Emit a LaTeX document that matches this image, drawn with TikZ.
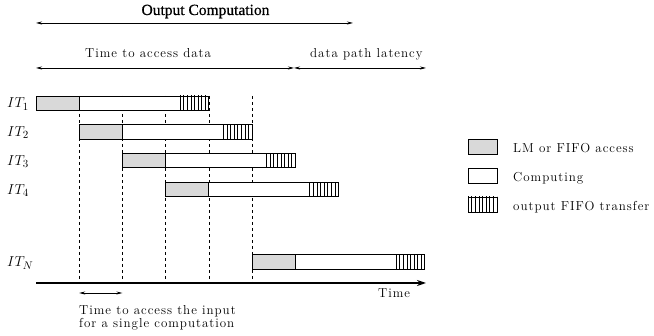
\documentclass[tikz,border=0pt]{standalone}
\usepackage{fontspec}
\newfontfamily\spaced[LetterSpace=7.5]{Latin Modern Roman}
\newfontfamily\titlefont[FakeBold=0.6]{Liberation Serif}
\usetikzlibrary{arrows.meta,patterns.meta,positioning}

\tikzset{
  access/.style={draw, line width=0.8pt, fill=black!15},
  compute/.style={draw, line width=0.8pt, fill=white},
  transfer/.style={draw, line width=0.8pt, preaction={fill=white},
    pattern={Lines[angle=90, distance=3.6pt, line width=0.6pt]}},
  span/.style={line width=0.7pt, {Stealth[length=6pt,width=3pt]}-{Stealth[length=6pt,width=3pt]}},
  lbl/.style={inner sep=0pt, font=\spaced\fontsize{13}{11.5}\selectfont},
  itlbl/.style={inner sep=0pt, font=\fontsize{15}{17}\selectfont},
}

\begin{document}
\begin{tikzpicture}[x=1pt, y=-1pt]
        \def\u{43.2}
        \def\h{14.5}
        \useasboundingbox (0,0) rectangle (654,336);

        % spans at the top
        \node[inner sep=0pt, anchor=base, font=\titlefont\fontsize{15.5}{17}\selectfont] (outcomp) at (205.5,15) {Output Computation};
        \coordinate (oc-l) at (36,23);
        \coordinate (oc-r) at (353,23);
        \draw[span] (oc-l) -- (oc-r);

        \node[lbl, anchor=base west] (accdata) at (85,58) {Time to access data};
        \node[lbl, anchor=base west] (latency) at (310,58) {data path latency};
        \coordinate (ad-l) at (36,68);
        \coordinate (ad-r) at (294,68);
        \coordinate (lat-r) at (426,68);
        \draw[span] (ad-l) -- (ad-r);
        \draw[span] (ad-r) -- (lat-r);

        % time grid
        \foreach \k in {1,...,5}
            \draw[dashed, line width=0.6pt] (36+\k*\u,96) -- (36+\k*\u,283);

        % iterations
        \foreach \n/\x/\y in {1/36/96, 2/79.2/124.7, 3/122.4/153.4, 4/165.6/182.1, N/252/254.5} {
            \node[itlbl, anchor=base west] (it\n) at (7,\y+12) {$IT_{\n}$};
            \draw[access] (\x,\y) rectangle ++(\u,\h);
            \draw[compute] (\x+\u,\y) rectangle ++(100.8,\h);
            \draw[transfer] (\x+\u+100.8,\y) rectangle ++(28.8,\h);
        }

        % time axis
        \coordinate (t0) at (36,283);
        \coordinate (t1) at (426,283);
        \draw[line width=1.6pt, -{Stealth[length=9pt,width=6pt]}] (t0) -- (t1);
        \node[lbl, anchor=base west] (time) at (378,298) {Time};

        \coordinate (in-l) at (79.2,293);
        \coordinate (in-r) at (122.4,293);
        \draw[span] (in-l) -- (in-r);
        \node[lbl, anchor=base west, align=left] (single) at (79,327.5) {Time to access the input\\for a single computation};

        % legend
        \draw[access] (468,139) rectangle ++(29,15);
        \node[lbl, anchor=base west] (lg1) at (513,153) {LM or FIFO access};
        \draw[compute] (468,168) rectangle ++(29,15);
        \node[lbl, anchor=base west] (lg2) at (513,182) {Computing};
        \draw[transfer] (468,197) rectangle ++(29,15);
        \node[lbl, anchor=base west] (lg3) at (513,211) {output FIFO transfer};
\end{tikzpicture}
\end{document}
